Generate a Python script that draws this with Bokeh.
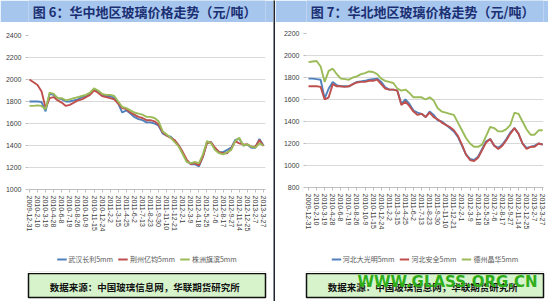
from bokeh.plotting import figure
from bokeh.layouts import row, column
from bokeh.models import FixedTicker, Legend, LegendItem, Range1d, BoxAnnotation
from bokeh.embed import file_html
from bokeh.resources import INLINE
from bokeh.core.properties import value

date_labels = ["2009-12-31", "2010-2-10", "2010-3-19", "2010-4-28", "2010-6-8", "2010-7-19",
               "2010-8-26", "2010-10-9", "2010-11-15", "2010-12-24", "2011-2-2", "2011-3-15",
               "2011-4-25", "2011-6-2", "2011-7-13", "2011-8-23", "2011-9-30", "2011-11-10",
               "2011-12-21", "2012-2-1", "2012-3-9", "2012-4-18", "2012-5-25", "2012-7-6",
               "2012-8-17", "2012-9-27", "2012-11-14", "2012-12-25", "2013-2-7", "2013-3-27"]

x_pos = [0, 0.5, 1, 1.5, 2, 2.5, 3, 3.5, 4, 4.5, 5, 5.5, 6, 6.5, 7, 7.5, 8, 8.5, 9, 9.5,
         10, 10.5, 11, 11.5, 12, 12.5, 13, 13.5, 14, 14.5, 15, 15.5, 16, 16.5, 17, 17.5, 18, 18.5,
         19, 19.5, 20, 20.5, 21, 21.5, 22, 22.5, 23, 23.5, 24, 24.5, 25, 25.5, 26, 26.5, 27, 27.5,
         28, 28.5, 29]

# Figure 6 (central China)
wuhan = [1800, 1800, 1800, 1795, 1710, 1870, 1860, 1830, 1820, 1800, 1800, 1810, 1820, 1840, 1850,
         1870, 1910, 1890, 1860, 1850, 1850, 1830, 1780, 1700, 1720, 1690, 1660, 1640, 1630, 1610,
         1610, 1600, 1580, 1510, 1490, 1480, 1440, 1400, 1330, 1260, 1230, 1230, 1210, 1300, 1430,
         1430, 1370, 1340, 1340, 1360, 1380, 1450, 1460, 1400, 1410, 1380, 1380, 1460, 1400]
jingzhou = [2000, 1975, 1950, 1890, 1740, 1830, 1840, 1810, 1790, 1760, 1770, 1790, 1810, 1820, 1840,
            1860, 1900, 1880, 1850, 1840, 1830, 1820, 1780, 1740, 1730, 1700, 1680, 1660, 1650, 1630,
            1630, 1620, 1590, 1520, 1490, 1470, 1450, 1400, 1340, 1270, 1230, 1240, 1220, 1300, 1420,
            1430, 1380, 1340, 1330, 1330, 1370, 1440, 1420, 1410, 1410, 1390, 1390, 1450, 1395]
zhuzhou = [1760, 1760, 1765, 1760, 1730, 1880, 1870, 1830, 1830, 1810, 1820, 1830, 1840, 1850, 1860,
           1880, 1920, 1900, 1870, 1860, 1860, 1850, 1800, 1750, 1740, 1720, 1700, 1690, 1680, 1660,
           1660, 1650, 1620, 1530, 1500, 1470, 1430, 1390, 1320, 1250, 1240, 1250, 1240, 1320, 1440,
           1420, 1360, 1330, 1320, 1340, 1360, 1440, 1470, 1400, 1410, 1390, 1380, 1420, 1400]

# Figure 7 (north China)
hb_dgm = [1790, 1790, 1785, 1780, 1610, 1700, 1760, 1730, 1720, 1720, 1720, 1740, 1760, 1765, 1770,
          1780, 1785, 1790, 1760, 1710, 1690, 1690, 1680, 1560, 1600, 1560, 1500, 1480, 1470, 1440,
          1490, 1460, 1410, 1400, 1370, 1340, 1310, 1260, 1180, 1100, 1060, 1050, 1080, 1150, 1220,
          1240, 1180, 1160, 1190, 1240, 1300, 1340, 1290, 1200, 1160, 1170, 1180, 1200, 1190]
hb_aq = [1720, 1720, 1720, 1715, 1600, 1620, 1740, 1720, 1720, 1715, 1720, 1740, 1755, 1760, 1760,
         1770, 1770, 1780, 1740, 1700, 1690, 1690, 1680, 1550, 1580, 1540, 1490, 1460, 1470, 1440,
         1480, 1440, 1420, 1390, 1370, 1350, 1320, 1270, 1190, 1100, 1050, 1040, 1070, 1140, 1210,
         1240, 1180, 1150, 1180, 1230, 1290, 1340, 1290, 1200, 1150, 1170, 1170, 1200, 1190]
dz_jh = [1940, 1945, 1950, 1900, 1760, 1860, 1880, 1830, 1790, 1785, 1780, 1800, 1810, 1830, 1840,
         1855, 1850, 1830, 1790, 1770, 1760, 1750, 1700, 1680, 1690, 1660, 1620, 1620, 1620, 1600,
         1620, 1590, 1520, 1490, 1480, 1470, 1460, 1390, 1320, 1250, 1200, 1170, 1170, 1190, 1270,
         1350, 1340, 1310, 1310, 1330, 1370, 1480, 1470, 1400, 1330, 1280, 1280, 1320, 1320]

names6 = ["武汉长利5mm", "荆州亿钧5mm", "株洲旗滨5mm"]
names7 = ["河北大光明5mm", "河北安全5mm", "德州晶华5mm"]
colors = ["#4f81bd", "#c0504d", "#9bbb59"]
title6 = "图 6：华中地区玻璃价格走势（元/吨）"
title7 = "图 7：华北地区玻璃价格走势（元/吨）"
source = "数据来源：中国玻璃信息网，华联期货研究所"
yticks6 = [1000, 1200, 1400, 1600, 1800, 2000, 2200, 2400]
yticks7 = [800, 1000, 1200, 1400, 1600, 1800, 2000, 2200]

CJK = "Noto Sans CJK SC"
PW = 273
FRAME = "#c4c4c4"


def bare(w, h, **kw):
    f = figure(width=w, height=h, x_range=Range1d(0, 1), y_range=Range1d(0, 1),
               x_axis_type=None, y_axis_type=None, toolbar_location=None,
               output_backend="svg", min_border=0, **kw)
    f.grid.visible = False
    f.outline_line_color = None
    return f


def chart_box(fig, top, bottom):
    fig.add_layout(BoxAnnotation(left=2, right=270, top=top, bottom=bottom,
                                 left_units="canvas", right_units="canvas",
                                 top_units="canvas", bottom_units="canvas",
                                 fill_alpha=0, line_color=FRAME, line_width=1.2,
                                 border_radius=3))


def make_header(txt):
    h = bare(PW, 22)
    h.background_fill_color = "#a6c6ee"
    h.border_fill_color = "#a6c6ee"
    h.text(x=[0.49], y=[0.5], text=[txt], text_font=value(CJK), text_font_style="bold",
           text_font_size="13px", text_color="#1b2f73", text_align="center",
           text_baseline="middle")
    return h


def make_footer(txt, watermark=False):
    f = bare(PW, 27, min_border_bottom=3)
    f.outline_line_color = "#111111"
    f.outline_line_width = 1.5
    f.background_fill_color = "#d6f3cc"
    f.border_fill_color = "white"
    f.text(x=[0.49], y=[0.42], text=[txt], text_font=value(CJK), text_font_style="bold",
           text_font_size="9.5px", text_color="#111111", text_align="center",
           text_baseline="middle")
    if watermark:
        f.text(x=[0.975], y=[0.65], text=["WWW.GLASS.ORG.CN"], text_font=value("DejaVu Sans"),
               text_font_style="bold", text_font_size="15px", text_color="#2fae1a",
               text_align="right", text_baseline="middle")
    return f


def make_legend(series, names):
    # the series lie far outside this strip's 0..1 range; only their legend samples show
    f = bare(PW, 29)
    f.background_fill_color = "white"
    f.border_fill_color = "white"
    items = []
    for ys, nm, c in zip(series, names, colors):
        r = f.line(x_pos, ys, line_color=c, line_width=1.8)
        items.append(LegendItem(label=nm, renderers=[r]))
    lg = Legend(items=items, orientation="horizontal", location="center",
                glyph_width=10, glyph_height=8, label_standoff=2, spacing=5,
                padding=2, margin=0, label_text_font=CJK, label_text_font_size="7px",
                label_text_color="#595959", background_fill_alpha=0, border_line_color=None)
    f.add_layout(lg, "center")
    chart_box(f, -20, 27)
    return f


def make_main(series, ylo, yhi, yticks, xr, mb):
    p = figure(width=PW, height=222, x_range=Range1d(*xr), y_range=Range1d(ylo, yhi),
               toolbar_location=None, output_backend="svg",
               min_border_left=mb[0], min_border_right=mb[1],
               min_border_top=mb[2], min_border_bottom=mb[3])
    p.background_fill_color = "white"
    p.border_fill_color = "white"
    p.outline_line_color = None
    p.xgrid.visible = False
    p.ygrid.grid_line_color = "#d9d9d9"
    p.yaxis.ticker = FixedTicker(ticks=yticks)
    p.yaxis.axis_line_color = None
    p.yaxis.major_tick_line_color = "#bfbfbf"
    p.yaxis.major_tick_out = 3
    p.yaxis.major_tick_in = 0
    p.yaxis.minor_tick_line_color = None
    p.yaxis.major_label_standoff = 4
    p.xaxis.ticker = FixedTicker(ticks=list(range(len(date_labels))))
    p.xaxis.major_label_overrides = {i: lab for i, lab in enumerate(date_labels)}
    p.xaxis.major_label_orientation = "vertical"
    p.xaxis.axis_line_color = "#bfbfbf"
    p.xaxis.major_tick_line_color = "#bfbfbf"
    p.xaxis.major_tick_out = 3
    p.xaxis.major_tick_in = 0
    p.xaxis.minor_tick_line_color = None
    p.xaxis.major_label_standoff = 3
    for ax in (p.xaxis, p.yaxis):
        ax.major_label_text_font = "Liberation Sans"
        ax.major_label_text_font_size = "7px"
        ax.major_label_text_color = "#404040"
    for ys, c in zip(series, colors):
        p.line(x_pos, ys, line_color=c, line_width=1.9)
    chart_box(p, 1, 260)
    return p


s6 = [wuhan, jingzhou, zhuzhou]
s7 = [hb_dgm, hb_aq, dz_jh]
main6 = make_main(s6, 1000, 2400, yticks6, (-0.12, 29.25), (28, 8, 13, 55))
main7 = make_main(s7, 800, 2200, yticks7, (-0.25, 29.1), (31, 5, 11, 57))

left = column(make_header(title6), main6, make_legend(s6, names6), make_footer(source), spacing=0)
right = column(make_header(title7), main7, make_legend(s7, names7),
               make_footer(source, watermark=True), spacing=0)

div = bare(2, 301)
div.background_fill_color = "#1d2430"
div.border_fill_color = "#1d2430"

layout = row(left, div, right, spacing=0)

open("out.html", "w").write(file_html(layout, INLINE))
